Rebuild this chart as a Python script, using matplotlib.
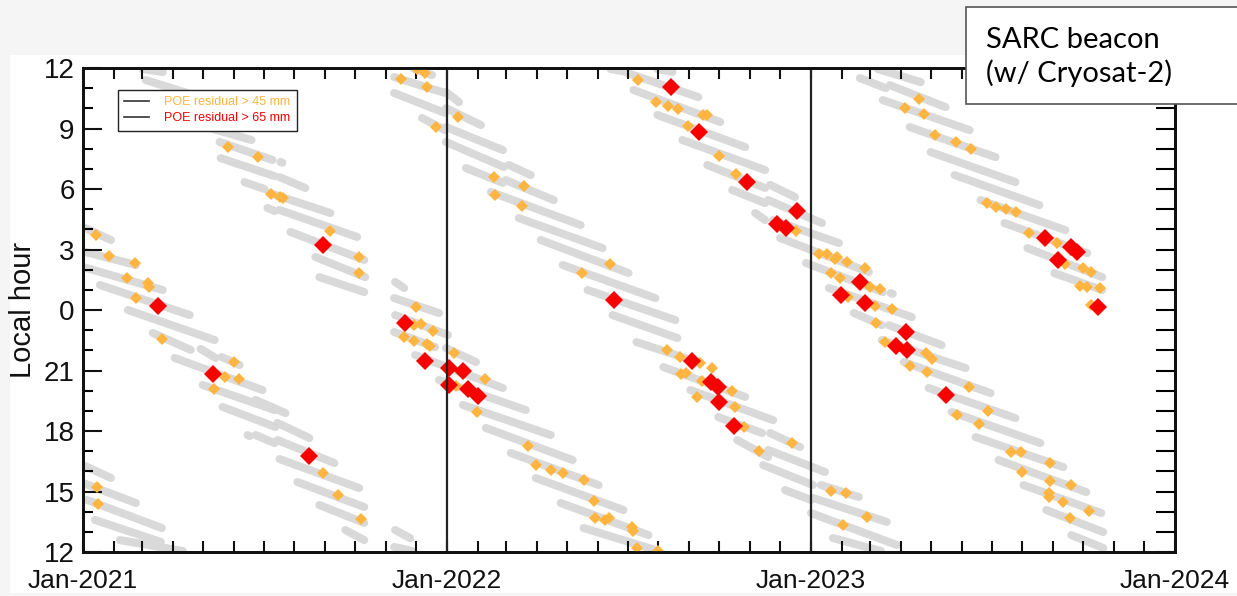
import numpy as np
import matplotlib
matplotlib.use("Agg")
import matplotlib.pyplot as plt
import matplotlib.dates as mdates
from matplotlib.lines import Line2D
from matplotlib.patches import Rectangle

# ---- data (days since 2021-01-01, local hour) ----
start = np.datetime64("2021-01-01")

# gray passes: start day, start hour, end day, end hour
seg_d0 = [60, 63, 92, 137, 198, 138, 197, 162, 187, 185, 197, 208, 233, 237,
          0, 3, 0, 17, 45, 70, 118, 139, 92, 120, 173, 140, 195, 165, 173, 195, 197, 215, 237, 263,
          0, 0, 4, 12, 37,
          332, 312, 364, 312, 364, 340, 364, 364, 427, 384, 424, 409, 437, 459, 481, 506, 531,
          555, 582, 609, 637, 689, 656, 687, 682, 704,
          313, 312, 313, 312, 364, 333, 357, 381, 404, 429, 454, 479, 502, 313, 312,
          529, 576, 546, 552, 576, 601, 626, 689, 651, 687, 674, 692, 699, 725, 810,
          748, 773, 808, 801, 823, 848, 871, 895, 918, 943, 966, 991,
          740, 732, 730, 752,
          797, 779, 809, 802, 829, 850, 874, 900, 924, 947, 974]
seg_h0 = [11.95, 11.4, 9.52, 8.33, 7.34, 7.53, 6.59, 6.34, 5.8, 5.06, 4.96, 3.87, 2.63, 1.63,
          4.11, 2.87, 2.13, 1.24, 0.0, 22.86, 22.07, 21.67, 21.62, 20.28, 19.54, 19.19, 18.4, 17.8,
          17.8, 17.55, 16.61, 15.47, 14.33, 13.09,
          16.31, 15.42, 14.58, 13.59, 12.59,
          11.95, 11.55, 10.81, 10.76, 10.01, 9.52, 9.07, 8.33, 7.19, 7.04, 6.44, 5.85, 4.56, 3.47,
          2.23, 0.99, 23.75,
          22.41, 21.17, 20.03, 18.69, 17.9, 17.55, 17.06, 16.31, 15.07,
          1.39, 0.59, 23.75, 22.91, 22.11, 21.77, 20.53, 19.29, 18.15, 16.91, 15.67, 14.43, 13.19,
          13.09, 12.25,
          11.95, 11.95, 11.75, 10.91, 9.67, 8.43, 7.19, 6.2, 5.95, 5.45, 4.81, 4.46, 3.57, 2.33, 0.84,
          1.09, 23.85, 23.25, 22.51, 21.42, 20.13, 18.94, 17.7, 16.56, 15.32, 14.08, 12.84,
          15.32, 14.68, 13.93, 12.69,
          11.95, 11.5, 11.15, 10.41, 9.07, 7.83, 6.69, 5.45, 4.31, 3.07, 1.83]
seg_d1 = [80, 127, 169, 190, 200, 192, 223, 182, 248, 192, 275, 282, 283, 282,
          28, 53, 80, 107, 132, 108, 133, 157, 180, 192, 203, 193, 227, 167, 192, 252, 277, 282, 282, 282,
          28, 53, 79, 78, 100,
          350, 363, 377, 363, 399, 363, 421, 422, 449, 421, 472, 499, 521, 547, 574, 594, 596,
          619, 664, 692, 681, 719, 687, 744, 732, 730,
          322, 357, 366, 353, 394, 421, 444, 469, 491, 517, 542, 567, 577, 328, 330,
          546, 591, 617, 639, 664, 684, 684, 714, 684, 741, 684, 758, 788, 802, 812,
          831, 801, 861, 885, 910, 935, 960, 983, 1006, 1021, 1023, 1023,
          778, 806, 816, 800,
          840, 805, 865, 889, 915, 935, 959, 985, 1007, 1022, 1022]
seg_h1 = [11.8, 10.41, 8.43, 7.44, 7.3, 6.64, 6.05, 6.0, 4.81, 4.91, 3.62, 2.48, 1.63, 0.89,
          3.47, 2.23, 0.99, 23.75, 22.51, 22.02, 21.62, 21.27, 20.03, 19.04, 18.89, 18.2, 17.65, 17.75,
          17.4, 16.41, 15.17, 14.23, 13.44, 12.59,
          15.67, 14.43, 13.19, 12.5, 12.05,
          11.65, 10.76, 10.31, 9.77, 9.17, 8.92, 7.93, 7.09, 6.69, 6.3, 5.45, 4.21, 3.07, 1.83,
          0.59, 23.5, 22.61,
          21.37, 19.69, 18.54, 17.9, 17.21, 16.71, 15.97, 15.32, 14.58,
          1.09, 23.85, 22.76, 22.16, 21.42, 20.13, 19.04, 17.8, 16.56, 15.32, 14.08, 12.84, 12.05,
          12.69, 12.05,
          11.8, 11.8, 10.56, 9.32, 8.08, 6.94, 6.05, 5.6, 5.3, 4.31, 4.46, 3.32, 1.88, 0.89, 0.8,
          23.65, 23.25, 22.26, 21.12, 19.88, 18.64, 17.4, 16.21, 14.97, 13.93, 12.99, 12.2,
          14.73, 13.49, 12.35, 12.05,
          11.3, 11.0, 10.06, 8.92, 7.58, 6.34, 5.2, 3.96, 2.82, 1.63, 0.99]

# POE residual > 45 mm
or_d = [13, 26, 52, 44, 65, 66, 53, 79, 151, 142, 156, 131, 241, 256, 279, 14, 15,
        145, 175, 189, 198, 201, 248, 277, 277, 319, 335, 343, 345, 354,
        334, 332, 339, 351, 322, 332, 345, 348,
        376, 372, 403, 374, 395, 412, 442, 413, 440, 528, 500,
        446, 454, 469, 481, 502, 512, 513, 523, 527, 551, 552, 556, 577,
        586, 599, 619, 631, 600, 605, 621, 651, 616, 654, 663, 711, 678,
        557, 575, 587, 597, 622, 626, 607, 638, 655, 715,
        738, 746, 754, 756, 766, 784, 750, 759, 789, 799, 767, 794, 811,
        795, 804, 845, 851, 829, 846, 888, 907, 876, 898,
        931, 941, 970, 942, 970, 991, 969, 969, 983, 1009, 990,
        750, 765, 786, 762,
        838, 824, 843, 854, 875, 890, 906, 916, 926, 936, 949, 977,
        985, 1003, 1011, 1000, 1007, 1020, 1011]
or_h = [3.72, 2.68, 2.33, 1.59, 1.34, 1.14, 0.59, 22.56, 21.42, 20.68, 20.58, 20.08,
        15.92, 14.83, 13.64, 15.22, 14.38,
        8.08, 7.58, 5.75, 5.6, 5.55, 3.91, 2.63, 1.83, 11.45, 11.95, 11.75, 11.06, 9.07,
        0.15, 23.25, 23.3, 22.96, 22.66, 22.46, 22.31, 22.21,
        9.57, 21.87, 20.58, 20.23, 18.94, 6.59, 6.15, 5.7, 5.15, 2.28, 1.83,
        17.26, 16.31, 16.07, 15.92, 15.57, 14.53, 13.69, 13.59, 13.69, 13.24, 13.04, 12.2, 12.05,
        22.02, 21.67, 21.37, 21.12, 20.83, 20.88, 20.48, 19.98, 19.69, 19.19, 18.2, 17.4, 17.01,
        11.4, 10.31, 10.11, 9.96, 9.67, 9.67, 9.12, 7.63, 6.75, 3.91,
        2.78, 2.78, 2.53, 2.63, 2.38, 2.08, 1.83, 1.59, 1.14, 1.04, 0.64, 0.2, 0.05,
        23.35, 22.41, 21.87, 21.57, 21.22, 20.92, 20.18, 18.99, 18.79, 18.35,
        16.96, 16.96, 16.41, 15.97, 15.52, 15.32, 14.93, 14.73, 14.48, 14.03, 13.69,
        15.02, 14.93, 13.74, 13.34,
        10.46, 10.01, 9.72, 8.67, 8.33, 7.98, 5.3, 5.11, 5.01, 4.86, 3.82, 3.32,
        2.28, 2.08, 1.88, 1.19, 1.14, 1.09, 0.25]

# POE residual > 65 mm
red_d = [75, 130, 227, 241, 323, 343, 367, 381, 367, 386, 396, 532,
         590, 618, 666, 716, 696, 705, 611, 630, 637, 638, 653,
         779, 760, 784, 825, 815, 826, 865, 965, 991, 997, 978, 1018]
red_h = [0.2, 20.83, 16.76, 3.22, 23.35, 21.47, 21.12, 20.97, 20.28, 20.08, 19.73, 0.49,
         11.06, 8.82, 6.34, 4.91, 4.26, 4.06, 21.47, 20.43, 20.18, 19.44, 18.25,
         1.39, 0.74, 0.35, 22.91, 22.21, 22.02, 19.78, 3.57, 3.12, 2.87, 2.48, 0.15]

hour_ticks = [12, 15, 18, 21, 24, 27, 30, 33, 36]
hour_labels = ["12", "15", "18", "21", "0", "3", "6", "9", "12"]
year_lines = ["2022-01-01", "2023-01-01"]


def day2date(d):
    return start + np.array(d).astype("timedelta64[D]")


def hour2y(h):
    # noon at the bottom, midnight in the middle
    return (np.array(h) - 12) % 24 + 12


plt.rcParams["font.family"] = ["Liberation Sans", "DejaVu Sans"]

fig = plt.figure(figsize=(12.37, 5.96), dpi=100)
fig.patch.set_facecolor("#f5f5f5")
fig.patches.append(Rectangle((10 / 1237, 3 / 596), 1, 538 / 596, transform=fig.transFigure,
                             facecolor="white", edgecolor="none", zorder=-10))

ax = fig.add_axes([83 / 1237, 1 - 552 / 596, 1092 / 1237, 484 / 596])

x0 = day2date(seg_d0)
x1 = day2date(seg_d1)
y0 = hour2y(seg_h0)
y1 = hour2y(seg_h1)
for i in range(len(seg_d0)):
    ax.plot([x0[i], x1[i]], [y0[i], y1[i]], color="#d9d9d9", lw=5.8,
            solid_capstyle="round", zorder=1)

ax.plot(day2date(or_d), hour2y(or_h), "D", color="#ffb53f", ms=6.3, mew=0, zorder=3)
ax.plot(day2date(red_d), hour2y(red_h), "D", color="#f80000", ms=9, mew=0, zorder=4)

for yl in year_lines:
    ax.axvline(np.datetime64(yl), color="#222222", lw=1.6, zorder=5)

ax.set_xlim(np.datetime64("2021-01-01"), np.datetime64("2024-01-01"))
ax.set_ylim(12, 36)
ax.xaxis.set_major_locator(mdates.YearLocator())
ax.xaxis.set_major_formatter(mdates.DateFormatter("%b-%Y"))
ax.xaxis.set_minor_locator(mdates.MonthLocator())
ax.tick_params(axis="x", which="both", direction="in", length=8, width=1.5,
               top=True, labelsize=19, pad=12, colors="#111111")

ax.set_yticks(hour_ticks)
ax.set_yticklabels(hour_labels)
ax.set_yticks(np.arange(12, 37, 1), minor=True)
ax.tick_params(axis="y", which="major", direction="in", length=14, width=1.5,
               right=False, labelsize=20, pad=6, colors="#111111")
ax.tick_params(axis="y", which="minor", direction="in", length=7, width=1.5, right=False)
ax.set_ylabel("Local hour", fontsize=21, labelpad=5, color="#111111")

ax2 = ax.twinx()
ax2.set_ylim(12, 36)
ax2.set_yticks(np.arange(12, 37, 1))
ax2.tick_params(axis="y", direction="in", length=14, width=1.5, labelright=False)

for a in (ax, ax2):
    for s in a.spines.values():
        s.set_linewidth(2)
        s.set_color("#111111")

handles = [Line2D([], [], color="#333333", lw=1.2), Line2D([], [], color="#333333", lw=1.2)]
leg = ax.legend(handles, ["POE residual > 45 mm", "POE residual > 65 mm"],
                loc="upper left", bbox_to_anchor=(0.032, 0.955), borderaxespad=0,
                fontsize=9, frameon=True, fancybox=False, framealpha=1,
                handlelength=2.0, handletextpad=1.2, borderpad=0.5, labelspacing=0.35)
leg.get_frame().set_edgecolor("#222222")
leg.get_frame().set_linewidth(1)
leg.set_zorder(10)
leg.get_texts()[0].set_color("#ffb53f")
leg.get_texts()[1].set_color("#f80000")

fig.patches.append(Rectangle((966 / 1237, 1 - 104 / 596), 0.3, 97 / 596, transform=fig.transFigure,
                             facecolor="white", edgecolor="#555555", lw=1.2, zorder=20))
fig.text(986 / 1237, 1 - 57 / 596, "SARC beacon\n(w/ Cryosat-2)", fontsize=21,
         family=["Lato", "DejaVu Sans"], va="center", ha="left", linespacing=1.25,
         color="black", zorder=21)

fig.savefig("out.png", dpi=100, facecolor=fig.get_facecolor())
